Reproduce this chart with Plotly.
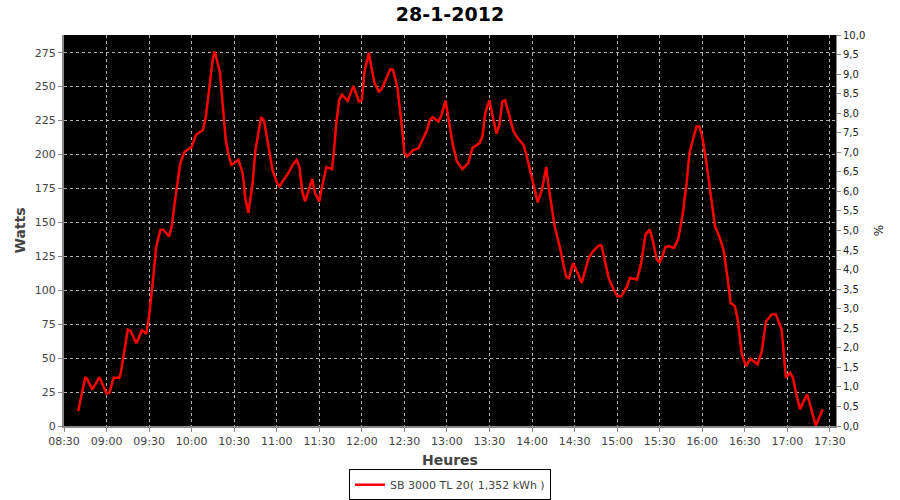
import plotly.graph_objects as go

DATE = "2012-01-28"
times = ["08:40","08:45","08:46","08:50","08:55","09:00","09:02","09:05","09:09","09:10",
         "09:15","09:17","09:21","09:25","09:28","09:30","09:33","09:35","09:38","09:40",
         "09:44","09:46","09:48","09:50","09:52","09:55","10:00","10:03","10:08","10:10",
         "10:12","10:15","10:16","10:17","10:20","10:22","10:24","10:26","10:28","10:30",
         "10:33","10:36","10:38","10:40","10:43","10:45","10:48","10:49","10:51","10:54",
         "10:57","11:00","11:02","11:04","11:08","11:11","11:14","11:16","11:18","11:20",
         "11:22","11:25","11:27","11:30","11:32","11:35","11:39","11:40","11:42","11:44",
         "11:46","11:50","11:54","11:56","11:58","12:00","12:02","12:05","12:06","12:09",
         "12:12","12:14","12:17","12:20","12:22","12:25","12:28","12:30","12:32","12:36",
         "12:40","12:43","12:46","12:48","12:50","12:54","12:56","12:59","13:01","13:04",
         "13:07","13:11","13:15","13:18","13:23","13:25","13:27","13:30","13:32","13:35",
         "13:37","13:39","13:41","13:44","13:47","13:50","13:54","13:56","13:58","14:01",
         "14:04","14:07","14:10","14:12","14:16","14:20","14:22","14:24","14:26","14:29",
         "14:32","14:35","14:37","14:40","14:43","14:47","14:49","14:51","14:54","14:57",
         "15:00","15:03","15:07","15:09","15:14","15:17","15:20","15:23","15:25","15:28",
         "15:30","15:32","15:34","15:37","15:40","15:43","15:46","15:49","15:51","15:54",
         "15:56","15:58","16:00","16:03","16:06","16:09","16:12","16:15","16:18","16:20",
         "16:23","16:25","16:28","16:31","16:34","16:39","16:42","16:45","16:49","16:52",
         "16:56","16:59","17:02","17:04","17:06","17:09","17:11","17:14","17:16","17:20",
         "17:21","17:25"]
watts = [11,36,35,27,36,24,24.5,35.5,35.5,39,
         71,70,61,70.6,68,81,110,132,144.6,144.6,
         139.7,147,164,181,193.7,202,205.4,214.5,218,227.5,
         246,271,276,273,260,235,211,200,192.4,193.7,
         196,186,166.7,157,179,203.5,220.6,227.5,225,208,
         188.7,179.4,176.5,180,186,192,196,191,172.8,165.4,
         171.6,182,171.6,165.4,176.5,190.7,189.3,198.5,223,240,
         244,239.5,250.5,244,239,240,262,275,268.4,252.5,
         246.3,248,255,262.8,262.3,250,223,201,198.5,203,
         204.7,210.8,218,225.5,227.5,224.3,228.5,239.7,228,208,
         194.9,189.3,193.7,204.7,208.4,213.2,230.4,240,229.2,215.2,
         221.8,239,240,228.5,216.9,212,207,199.8,191.2,176.5,
         164.7,174,190.7,174,147,130,120,109.8,109,120,
         112.8,105.4,112.8,123.8,128.7,132.9,132.9,122.6,109,101.8,
         95.6,95.6,103,109,107.9,120.1,141,144.6,137.3,122.6,
         120.6,125,131.9,132.4,131.2,137.3,154.4,179,201,213.2,
         220.6,220.6,213.2,193.7,171.6,147,139.7,130,107.9,90.7,
         88.2,78.5,52.7,44.1,49.6,45.4,55.1,77.2,82.1,82.1,
         71.1,35.6,39.3,35.6,24.6,12.3,17.2,23.3,16,0.5,
         2.5,12.3]
series_name = "SB 3000 TL 20( 1,352 kWh )"
title_text = "28-1-2012"

x_vals = [f"{DATE} {t}:00" for t in times]

FONT = "DejaVu Sans"
GRAY = "#444444"
AXIS = "#888888"
GRID = "#b0b0b0"

fig = go.Figure()
fig.add_trace(go.Scatter(x=x_vals, y=watts, mode="lines", name=series_name,
                         line=dict(color="#ff0000", width=2.5)))
fig.add_trace(go.Scatter(x=[x_vals[0]], y=[None], yaxis="y2", mode="lines",
                         showlegend=False, hoverinfo="skip"))

fig.update_layout(
    width=900, height=500,
    margin=dict(l=64, r=64, t=35, b=74, autoexpand=False),
    paper_bgcolor="white", plot_bgcolor="black",
    separators=",.",
    font=dict(family=FONT, size=11, color=GRAY),
    title=dict(text="<b>" + title_text + "</b>", x=0.5, xanchor="center",
               y=0.972, yanchor="middle", yref="container",
               font=dict(family=FONT, size=19, color="black"), automargin=False),
    xaxis=dict(type="date",
               range=[f"{DATE} 08:30:00", f"{DATE} 17:34:20"],
               dtick=30*60*1000, tick0=f"{DATE} 08:30:00", tickformat="%H:%M",
               showgrid=True, gridcolor=GRID, griddash="3px,3px", gridwidth=1,
               showline=True, linecolor=AXIS, linewidth=2,
               ticks="outside", ticklen=4, tickcolor=AXIS,
               tickfont=dict(size=11, color=GRAY), automargin=False,
               title=dict(text="<b>Heures</b>", font=dict(size=14, color=GRAY), standoff=8),
               zeroline=False),
    yaxis=dict(range=[0, 288], dtick=25, tick0=0,
               showgrid=True, gridcolor=GRID, griddash="3px,3px", gridwidth=1,
               showline=True, linecolor=AXIS, linewidth=2,
               ticks="outside", ticklen=4, tickcolor=AXIS,
               tickfont=dict(size=11, color=GRAY), automargin=False,
               title=dict(text="<b>Watts</b>", font=dict(size=14, color=GRAY), standoff=6),
               zeroline=False),
    yaxis2=dict(range=[0, 10], dtick=0.5, tick0=0, tickformat=".1f",
                overlaying="y", side="right", showgrid=False,
                showline=True, linecolor=AXIS, linewidth=1,
                ticks="outside", ticklen=4, tickcolor=AXIS,
                tickfont=dict(size=10, color="#222222"), automargin=False,
                title=dict(text="%", font=dict(size=12, color="#222222"), standoff=10),
                zeroline=False),
    legend=dict(orientation="h", x=0.5, xanchor="center", y=-0.150, yanchor="middle",
                bordercolor="black", borderwidth=1, bgcolor="white",
                font=dict(size=11, color=GRAY), itemwidth=30),
    showlegend=True,
)

fig.write_html("out.html", config={"displayModeBar": False},
               post_script="document.body.style.margin='0';document.body.style.overflow='hidden';")
